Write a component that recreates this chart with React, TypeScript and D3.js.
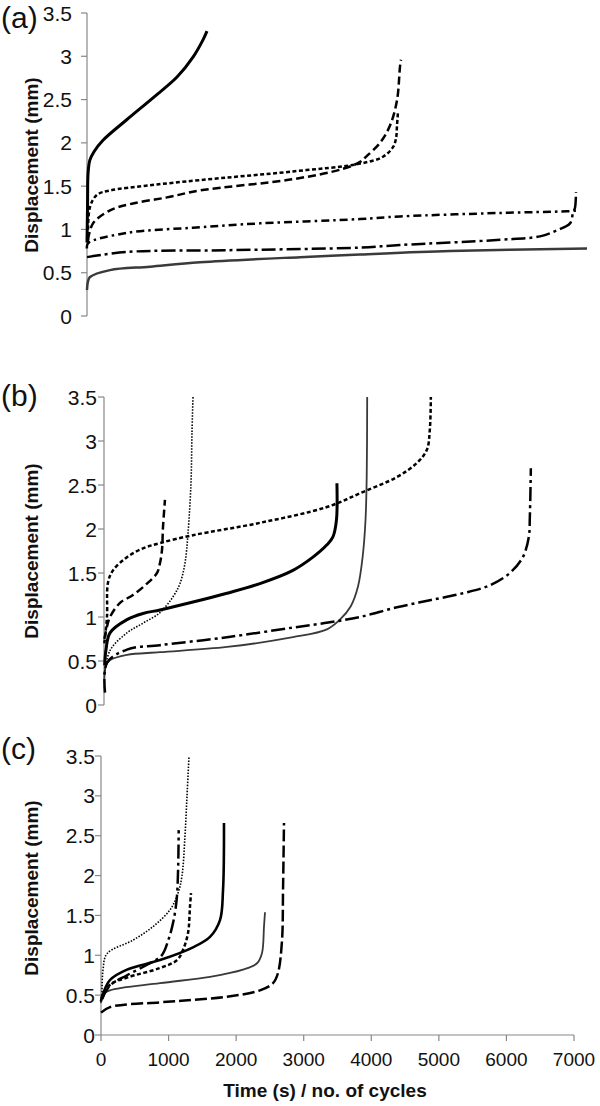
import React from "react";
import * as d3 from "d3";

type Pt = [number, number];

// ---------- tick values ----------
const yTicks = [0, 0.5, 1, 1.5, 2, 2.5, 3, 3.5];
const xTicks = [0, 1000, 2000, 3000, 4000, 5000, 6000, 7000];
const yTitle = "Displacement (mm)";
const xTitle = "Time (s) / no. of cycles";

// ---------- panel (a) ----------
const aThick: Pt[] = [[0, 0.85], [8, 1.3], [15, 1.65], [40, 1.8], [100, 1.9], [224, 2.03], [560, 2.27], [924, 2.52], [1260, 2.76], [1484, 2.99], [1624, 3.19], [1680, 3.29]];
const aShortDash: Pt[] = [[14, 0.85], [42, 1.26], [140, 1.4], [322, 1.45], [882, 1.51], [1582, 1.57], [2884, 1.67], [3822, 1.76], [4144, 1.84], [4284, 1.95], [4326, 2.05], [4340, 2.2], [4354, 2.36]];
const aLongDash: Pt[] = [[14, 0.88], [84, 1.07], [322, 1.22], [644, 1.3], [1120, 1.37], [1582, 1.45], [2884, 1.58], [3584, 1.7], [3822, 1.78], [3920, 1.85], [4102, 2.0], [4242, 2.2], [4340, 2.49], [4382, 2.88], [4396, 2.96]];
const aDashDot: Pt[] = [[0, 0.78], [14, 0.84], [560, 0.96], [1484, 1.02], [2422, 1.07], [3822, 1.12], [4382, 1.15], [5782, 1.19], [6720, 1.21], [6902, 1.22]];
const aLongDashDot: Pt[] = [[0, 0.68], [560, 0.74], [1960, 0.76], [3822, 0.79], [4382, 0.82], [5782, 0.88], [6342, 0.92], [6580, 0.99], [6762, 1.07], [6804, 1.19], [6832, 1.25], [6846, 1.43]];
const aGray: Pt[] = [[0, 0.3], [14, 0.4], [42, 0.45], [322, 0.53], [882, 0.57], [1582, 0.62], [2982, 0.68], [3822, 0.71], [5082, 0.75], [7000, 0.78]];

// ---------- panel (b) ----------
const bShortDash: Pt[] = [[5, 0.7], [44, 1.0], [59, 1.39], [133, 1.53], [340, 1.68], [577, 1.78], [828, 1.84], [1317, 1.93], [2308, 2.07], [3299, 2.25], [3831, 2.42], [4334, 2.59], [4630, 2.75], [4778, 2.9], [4822, 3.13], [4837, 3.5]];
const bLongDash: Pt[] = [[5, 0.75], [44, 0.89], [89, 1.0], [237, 1.16], [429, 1.25], [636, 1.38], [784, 1.5], [828, 1.61], [858, 1.76], [873, 2.02], [902, 2.33]];
const bDotted: Pt[] = [[5, 0.35], [89, 0.62], [340, 0.82], [577, 0.93], [828, 1.05], [1021, 1.23], [1124, 1.38], [1198, 1.61], [1243, 1.95], [1287, 2.52], [1302, 3.09], [1317, 3.5]];
const bThick: Pt[] = [[10, 0.45], [30, 0.63], [89, 0.82], [340, 0.97], [577, 1.04], [828, 1.08], [1317, 1.17], [1820, 1.27], [2308, 1.38], [2796, 1.53], [3092, 1.68], [3299, 1.82], [3388, 1.91], [3440, 2.1], [3447, 2.52]];
const bGray: Pt[] = [[5, 0.3], [30, 0.45], [89, 0.51], [340, 0.57], [828, 0.6], [1820, 0.66], [2796, 0.77], [3299, 0.86], [3491, 0.97], [3650, 1.12], [3760, 1.35], [3830, 1.7], [3870, 2.1], [3888, 2.6], [3895, 3.5]];
const bDashDot: Pt[] = [[15, 0.14], [44, 0.48], [340, 0.63], [828, 0.68], [1820, 0.77], [2796, 0.88], [3343, 0.94], [3787, 1.0], [4334, 1.11], [4822, 1.19], [5311, 1.27], [5710, 1.36], [6006, 1.5], [6198, 1.68], [6287, 1.91], [6302, 2.14], [6317, 2.69]];

// ---------- panel (c) ----------
const cDotted: Pt[] = [[15, 0.5], [30, 0.82], [89, 1.02], [474, 1.19], [770, 1.36], [1021, 1.57], [1140, 1.78], [1199, 2.0], [1243, 2.5], [1273, 3.0], [1302, 3.49]];
const cDashDot: Pt[] = [[15, 0.45], [133, 0.62], [385, 0.75], [725, 0.9], [900, 1.0], [1000, 1.2], [1070, 1.42], [1120, 1.7], [1140, 2.05], [1150, 2.57]];
const cShortDash: Pt[] = [[15, 0.45], [133, 0.63], [385, 0.72], [873, 0.84], [1125, 0.94], [1214, 1.07], [1288, 1.28], [1317, 1.61], [1332, 1.78]];
const cThick: Pt[] = [[0, 0.42], [15, 0.48], [133, 0.69], [385, 0.82], [873, 0.94], [1362, 1.1], [1613, 1.23], [1761, 1.44], [1806, 1.82], [1820, 2.66]];
const cGray: Pt[] = [[0, 0.4], [15, 0.5], [133, 0.56], [873, 0.65], [1613, 0.73], [2101, 0.82], [2309, 0.9], [2383, 1.03], [2412, 1.36], [2427, 1.54]];
const cLongDash: Pt[] = [[0, 0.28], [133, 0.35], [873, 0.41], [1362, 0.44], [1865, 0.48], [2353, 0.56], [2546, 0.65], [2620, 0.78], [2679, 1.19], [2694, 1.82], [2708, 2.66]];

interface Style { color: string; width: number; dash?: string; }
const sThick: Style = { color: "#000", width: 3 };
const sShort: Style = { color: "#000", width: 2.5, dash: "4,2.5" };
const sLong: Style = { color: "#000", width: 2.5, dash: "8,4" };
const sDashDot: Style = { color: "#000", width: 2.5, dash: "8,4,2.5,4" };
const sLongDashDot: Style = { color: "#000", width: 2.5, dash: "14,4,3,4" };
const sGrayA: Style = { color: "#3a3a3a", width: 2.5 };
const sGray: Style = { color: "#3a3a3a", width: 1.8 };
const sDotted: Style = { color: "#000", width: 1.6, dash: "1.5,1.5" };

interface PanelProps {
  letter: string;
  letterBaseline: number;
  x0: number; x1: number;
  yBottom: number; yTop: number;
  labelEnd: number;
  titleY: number;
  series: { data: Pt[]; style: Style }[];
  showXAxis?: boolean;
}

const font = "Liberation Sans, Arial, Helvetica, sans-serif";

function Panel(p: PanelProps) {
  const x = d3.scaleLinear().domain([0, 7000]).range([p.x0, p.x1]);
  const y = d3.scaleLinear().domain([0, 3.5]).range([p.yBottom, p.yTop]);
  const line = d3.line<Pt>().x(d => x(d[0])).y(d => y(d[1])).curve(d3.curveCatmullRom.alpha(0.5));
  return (
    <g>
      <text x={1} y={p.letterBaseline} fontSize={30} fontFamily={font} fill="#111">{p.letter}</text>
      <line x1={p.x0} x2={p.x0} y1={y(0)} y2={y(3.5)} stroke="#888" strokeWidth={1.2} />
      {yTicks.map(t => (
        <g key={t}>
          <line x1={p.x0 - 6} x2={p.x0} y1={y(t)} y2={y(t)} stroke="#888" strokeWidth={1.2} />
          <text x={p.labelEnd} y={y(t)} dy="0.36em" textAnchor="end" fontSize={21} fontFamily={font} fill="#111">{t}</text>
        </g>
      ))}
      <text transform={`translate(31,${p.titleY}) rotate(-90)`} textAnchor="middle" dominantBaseline="central" fontSize={19} fontWeight="bold" fontFamily={font} fill="#111">{yTitle}</text>
      {p.showXAxis && (
        <g>
          <line x1={p.x0} x2={p.x1} y1={y(0)} y2={y(0)} stroke="#888" strokeWidth={1.2} />
          {xTicks.map(t => (
            <g key={t}>
              <line x1={x(t)} x2={x(t)} y1={y(0)} y2={y(0) + 6} stroke="#888" strokeWidth={1.2} />
              <text x={x(t)} y={1066} textAnchor="middle" fontSize={19} fontFamily={font} fill="#111">{t}</text>
            </g>
          ))}
          <text x={325} y={1097} textAnchor="middle" fontSize={19} fontWeight="bold" fontFamily={font} fill="#111">{xTitle}</text>
        </g>
      )}
      {p.series.map((s, i) => (
        <path key={i} d={line(s.data) || ""} fill="none" stroke={s.style.color} strokeWidth={s.style.width}
          strokeDasharray={s.style.dash} strokeLinejoin="round" />
      ))}
    </g>
  );
}

export default function App() {
  return (
    <svg width={600} height={1106} style={{ position: "absolute", left: 0, top: 0, background: "#fff" }}>
      <rect width={600} height={1106} fill="#fff" />
      <Panel letter="(a)" letterBaseline={28} x0={87} x1={587} yBottom={316} yTop={13} labelEnd={72} titleY={165}
        series={[
          { data: aGray, style: sGrayA },
          { data: aLongDashDot, style: sLongDashDot },
          { data: aDashDot, style: sDashDot },
          { data: aLongDash, style: sLong },
          { data: aShortDash, style: sShort },
          { data: aThick, style: sThick },
        ]} />
      <Panel letter="(b)" letterBaseline={406} x0={104} x1={577} yBottom={705} yTop={397} labelEnd={97} titleY={551}
        series={[
          { data: bGray, style: sGray },
          { data: bDashDot, style: sLongDashDot },
          { data: bDotted, style: sDotted },
          { data: bLongDash, style: sLong },
          { data: bShortDash, style: sShort },
          { data: bThick, style: sThick },
        ]} />
      <Panel letter="(c)" letterBaseline={759} x0={101} x1={574} yBottom={1035} yTop={756} labelEnd={95} titleY={888} showXAxis
        series={[
          { data: cGray, style: sGray },
          { data: cLongDash, style: { color: "#000", width: 2.5, dash: "12,4" } },
          { data: cDotted, style: sDotted },
          { data: cDashDot, style: sLongDashDot },
          { data: cShortDash, style: sShort },
          { data: cThick, style: { color: "#000", width: 2.6 } },
        ]} />
    </svg>
  );
}
